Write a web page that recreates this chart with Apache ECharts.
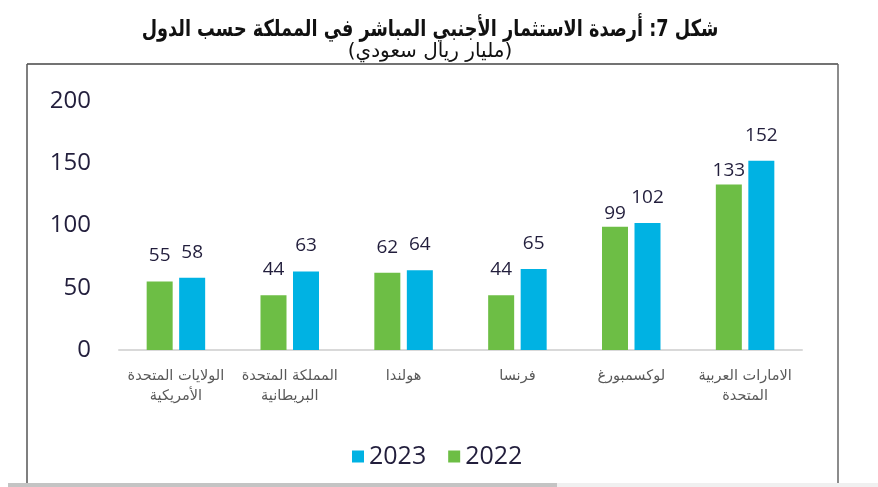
<!DOCTYPE html>
<html>
<head>
<meta charset="utf-8">
<script src="https://cdn.jsdelivr.net/npm/echarts@6/dist/echarts.min.js"></script>
<style>
html,body{margin:0;padding:0;background:#fff;}
#chart{width:878px;height:487px;}
</style>
</head>
<body>
<div id="chart"></div>
<script>
// Data
var categories = [
  'الولايات المتحدة\nالأمريكية',
  'المملكة المتحدة\nالبريطانية',
  'هولندا',
  'فرنسا',
  'لوكسمبورغ',
  'الامارات العربية\nالمتحدة'
];
var values2022 = [55, 44, 62, 44, 99, 133];
var values2023 = [58, 63, 64, 65, 102, 152];
var seriesNames = ['2022', '2023'];
var yTicks = [0, 50, 100, 150, 200];
var titleText = 'شكل 7: أرصدة الاستثمار الأجنبي المباشر في المملكة حسب الدول';
var subtitleText = '(مليار ريال سعودي)';

var GREEN = '#6DBE45';
var BLUE = '#00B2E3';
var labelColor = '#221E3C';

// labels that sit closer to bars in the reference
var closeLabels2022 = {4: 4, 5: 4};

var chart = echarts.init(document.getElementById('chart'), null, {renderer: 'canvas'});
var option = {
  backgroundColor: '#fff',
  animation: false,
  legend: {
    data: ['2023', '2022'],
    left: 347, top: 439,
    icon: 'rect', itemWidth: 12, itemHeight: 12, itemGap: 22,
    textStyle: {fontFamily: 'Open Sans', fontSize: 25, color: labelColor, padding: [0, 0, 0, 0]}
  },
  grid: {left: 119, right: 76, top: 101, bottom: 137, containLabel: false},
  xAxis: {
    type: 'category',
    data: categories,
    axisLine: {show: true, lineStyle: {color: '#D9D9D9', width: 2}},
    axisTick: {show: false},
    axisLabel: {
      interval: 0, margin: 16, lineHeight: 20,
      fontFamily: 'DejaVu Sans', fontSize: 14.5, color: '#595959'
    }
  },
  yAxis: {
    type: 'value',
    min: yTicks[0], max: yTicks[yTicks.length - 1], interval: yTicks[1] - yTicks[0],
    axisLine: {show: false}, axisTick: {show: false},
    splitLine: {show: false},
    axisLabel: {margin: 28, fontFamily: 'Open Sans', fontSize: 24, color: labelColor}
  },
  series: [{
    name: seriesNames[0], type: 'bar',
    data: values2022.map(function (v, i) {
      var d = {value: v};
      if (closeLabels2022[i] !== undefined) d.label = {distance: closeLabels2022[i]};
      return d;
    }),
    itemStyle: {color: GREEN},
    barWidth: 26, barGap: '25%',
    label: {show: true, position: 'top', distance: 16, fontFamily: 'Open Sans', fontSize: 19, color: labelColor}
  }, {
    name: seriesNames[1], type: 'bar',
    data: values2023,
    itemStyle: {color: BLUE},
    barWidth: 26, barGap: '25%',
    label: {show: true, position: 'top', distance: 16, fontFamily: 'Open Sans', fontSize: 19, color: labelColor}
  }],
  graphic: [
    {type: 'text', x: 430, y: 30, scaleX: 0.77, silent: true,
     style: {text: titleText, fontFamily: 'DejaVu Sans', fontWeight: 'bold', fontSize: 23,
             fill: '#111', align: 'center', verticalAlign: 'middle'}},
    {type: 'text', x: 430, y: 52, scaleX: 1.0, silent: true,
     style: {text: subtitleText, fontFamily: 'DejaVu Sans', fontSize: 20,
             fill: '#111', align: 'center', verticalAlign: 'middle'}},
    {type: 'line', shape: {x1: 27, y1: 64, x2: 838, y2: 64}, style: {stroke: '#444', lineWidth: 1.5}, silent: true},
    {type: 'line', shape: {x1: 27, y1: 64, x2: 27, y2: 483}, style: {stroke: '#555', lineWidth: 1.5}, silent: true},
    {type: 'line', shape: {x1: 838, y1: 64, x2: 838, y2: 483}, style: {stroke: '#666', lineWidth: 1.5}, silent: true},
    {type: 'rect', shape: {x: 8, y: 483, width: 549, height: 4}, style: {fill: '#C4C4C4'}, silent: true},
    {type: 'rect', shape: {x: 557, y: 483, width: 321, height: 4}, style: {fill: '#F0F0F0'}, silent: true}
  ]
};
chart.setOption(option);
</script>
</body>
</html>
